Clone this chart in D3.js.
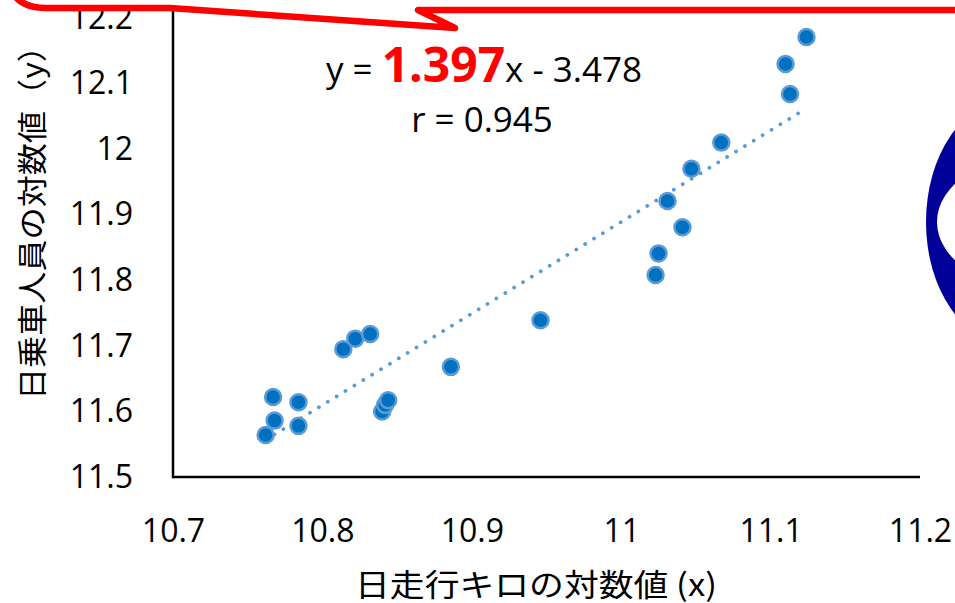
<!DOCTYPE html>
<html>
<head>
<meta charset="utf-8">
<script src="https://cdn.jsdelivr.net/npm/d3@7"></script>
<style>
  html, body { margin: 0; padding: 0; background: #fff; overflow: hidden; }
  svg { display: block; }
  text { font-family: "Open Sans", "Noto Sans CJK JP", sans-serif; fill: #000; }
  .jp { font-family: "Noto Sans CJK JP", "Noto Sans", sans-serif; }
</style>
</head>
<body>
<svg id="chart" width="955" height="603"></svg>
<script>
// log of daily train-kilometres (x) and log of daily riders (y), one pair per line
const logKm = [
  10.762, 10.767, 10.768, 10.784, 10.784, 10.814, 10.822, 10.832,
  10.840, 10.842, 10.844, 10.886, 10.946, 11.023, 11.025, 11.031,
  11.041, 11.047, 11.067, 11.110, 11.113, 11.124
];
const logRiders = [
  11.564, 11.622, 11.586, 11.578, 11.614, 11.695, 11.711, 11.718,
  11.600, 11.610, 11.617, 11.668, 11.739, 11.808, 11.841, 11.921,
  11.881, 11.970, 12.010, 12.130, 12.084, 12.171
];

// fitted line and correlation
const slope = 1.397;
const intercept = -3.478;
const corr = 0.945;

const xTicks = [10.7, 10.8, 10.9, 11, 11.1, 11.2];
const yTicks = [11.5, 11.6, 11.7, 11.8, 11.9, 12, 12.1, 12.2];

const xTitle = "日走行キロの対数値 (x)";
const yTitle = "日乗車人員の対数値（y）";

const svg = d3.select("#chart");

svg.append("rect").attr("width", 955).attr("height", 603).attr("fill", "#fff");

const x = d3.scaleLinear().domain([10.7, 11.2]).range([173, 920]);
const y = d3.scaleLinear().domain([11.5, 12.2]).range([477, 18]);

// decorative ring partly off the right edge
svg.append("path")
  .attr("d",
    "M926,222 A84,122 0 1,0 1094,222 A84,122 0 1,0 926,222 Z " +
    "M937,222 A110,70 0 1,0 1157,222 A110,70 0 1,0 937,222 Z")
  .attr("fill", "#000099")
  .attr("fill-rule", "evenodd");

// axes
const xAxis = d3.axisBottom(x)
  .tickValues(xTicks)
  .tickSize(0)
  .tickPadding(42)
  .tickFormat(d => String(d));
const yAxis = d3.axisLeft(y)
  .tickValues(yTicks)
  .tickSize(0)
  .tickPadding(40)
  .tickFormat(d => String(d));

const gx = svg.append("g").attr("transform", `translate(0,${y(11.5)})`).call(xAxis);
const gy = svg.append("g").attr("transform", `translate(${x(10.7)},0)`).call(yAxis);

[gx, gy].forEach(g => {
  g.select(".domain").remove();
  g.selectAll("text")
    .attr("font-family", "Open Sans, sans-serif")
    .attr("font-size", 32)
    .attr("fill", "#000");
});

// axis lines
svg.append("line")
  .attr("x1", x(10.7)).attr("x2", x(11.2))
  .attr("y1", y(11.5)).attr("y2", y(11.5))
  .attr("stroke", "#000").attr("stroke-width", 2.5);
svg.append("line")
  .attr("x1", x(10.7)).attr("x2", x(10.7))
  .attr("y1", y(11.5) + 1.25).attr("y2", y(12.2) - 10)
  .attr("stroke", "#000").attr("stroke-width", 2.5);

// axis titles
svg.append("text")
  .attr("class", "jp")
  .attr("x", 536).attr("y", 582)
  .attr("text-anchor", "middle")
  .attr("dominant-baseline", "central")
  .attr("font-size", 31)
  .attr("textLength", 362)
  .attr("lengthAdjust", "spacingAndGlyphs")
  .text(xTitle);

svg.append("text")
  .attr("class", "jp")
  .attr("transform", "translate(30,215) rotate(-90)")
  .attr("text-anchor", "middle")
  .attr("dominant-baseline", "central")
  .attr("font-size", 30)
  .attr("textLength", 370)
  .attr("lengthAdjust", "spacingAndGlyphs")
  .text(yTitle);

// regression line across the observed x range
const [xMin, xMax] = d3.extent(logKm);
svg.append("line")
  .attr("x1", x(xMin)).attr("y1", y(slope * xMin + intercept))
  .attr("x2", x(xMax)).attr("y2", y(slope * xMax + intercept))
  .attr("stroke", "#5B9BD5")
  .attr("stroke-width", 3.8)
  .attr("stroke-linecap", "round")
  .attr("stroke-dasharray", "0.01 10.4");

// observations
svg.append("g")
  .selectAll("circle")
  .data(logKm.map((v, i) => [v, logRiders[i]]))
  .join("circle")
  .attr("cx", d => x(d[0]))
  .attr("cy", d => y(d[1]))
  .attr("r", 8)
  .attr("fill", "#0070C0")
  .attr("stroke", "#5B9BD5")
  .attr("stroke-width", 2.5);

// equation and correlation labels
const eq = svg.append("text")
  .attr("x", 484).attr("y", 82)
  .attr("text-anchor", "middle")
  .style("white-space", "pre")
  .attr("font-size", 35);
eq.append("tspan").text("y = ");
eq.append("tspan")
  .attr("font-weight", "bold")
  .attr("font-size", 48)
  .attr("fill", "#FF0000")
  .text(slope.toFixed(3));
eq.append("tspan").text("x - " + Math.abs(intercept).toFixed(3));

svg.append("text")
  .attr("x", 482).attr("y", 132)
  .attr("text-anchor", "middle")
  .style("white-space", "pre")
  .attr("font-size", 35)
  .text("r = " + corr.toFixed(3));

// red callout outline running along the top
svg.append("path")
  .attr("d", "M8,-22 Q12,8 46,8 L170,8 L455,28 L418,10 L970,10")
  .attr("fill", "none")
  .attr("stroke", "#FF0000")
  .attr("stroke-width", 6.5)
  .attr("stroke-linejoin", "round")
  .attr("stroke-linecap", "round");
</script>
</body>
</html>
